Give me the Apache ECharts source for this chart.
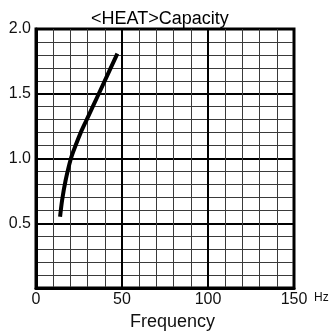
<!DOCTYPE html>
<html>
<head>
<meta charset="utf-8">
<script src="https://cdn.jsdelivr.net/npm/echarts@6/dist/echarts.min.js"></script>
<style>
html,body{margin:0;padding:0;background:#fff;}
#chart{width:330px;height:336px;}
</style>
</head>
<body>
<div id="chart"></div>
<script>
var titleText = '<HEAT>Capacity';
var xAxisTitle = 'Frequency';
var xUnit = 'Hz';
var xTicks = [0, 50, 100, 150];
var yTicks = [0.5, 1.0, 1.5, 2.0];
var freq = [14.0, 15.2, 17.2, 20.3, 23.0, 26.0, 29.5, 36.5, 47.3];
var capacity = [0.55, 0.68, 0.83, 1.00, 1.10, 1.20, 1.30, 1.50, 1.81];

var data = freq.map(function (f, i) { return [f, capacity[i]]; });
var font = 'Liberation Sans, Arial, sans-serif';

var chart = echarts.init(document.getElementById('chart'), null, {renderer: 'canvas'});
chart.setOption({
  animation: false,
  backgroundColor: '#fff',
  title: {
    text: titleText,
    left: 86,
    top: 5,
    textStyle: {fontFamily: font, fontSize: 18, fontWeight: 'normal', color: '#000'}
  },
  grid: {
    left: 36, right: 36, top: 29, bottom: 48,
    show: true, borderColor: '#000', borderWidth: 3
  },
  xAxis: {
    type: 'value',
    min: xTicks[0], max: xTicks[xTicks.length - 1], interval: 50,
    axisLine: {show: true, lineStyle: {color: '#000', width: 3}},
    axisTick: {show: false},
    axisLabel: {fontFamily: font, fontSize: 16, color: '#111', margin: 4},
    splitLine: {show: true, lineStyle: {color: '#000', width: 2}},
    minorTick: {show: false, splitNumber: 5},
    minorSplitLine: {show: true, lineStyle: {color: '#3a3a3a', width: 1}}
  },
  yAxis: {
    type: 'value',
    min: 0, max: yTicks[yTicks.length - 1], interval: 0.5,
    axisLine: {show: true, lineStyle: {color: '#000', width: 3}},
    axisTick: {show: false},
    axisLabel: {
      fontFamily: font, fontSize: 16, color: '#111', margin: 5,
      padding: [4, 0, 0, 0],
      formatter: function (v) { return yTicks.indexOf(v) >= 0 ? v.toFixed(1) : ''; }
    },
    splitLine: {show: true, lineStyle: {color: '#000', width: 2}},
    minorTick: {show: false, splitNumber: 5},
    minorSplitLine: {show: true, lineStyle: {color: '#3a3a3a', width: 1}}
  },
  graphic: [
    {type: 'text', left: 130, top: 313,
     style: {text: xAxisTitle, font: '18px ' + font, fill: '#111'}},
    {type: 'text', left: 314, top: 292,
     style: {text: xUnit, font: '12px ' + font, fill: '#111'}}
  ],
  series: [{
    type: 'line',
    data: data,
    smooth: 0.3,
    symbol: 'none',
    lineStyle: {color: '#000', width: 4}
  }]
});
</script>
</body>
</html>
